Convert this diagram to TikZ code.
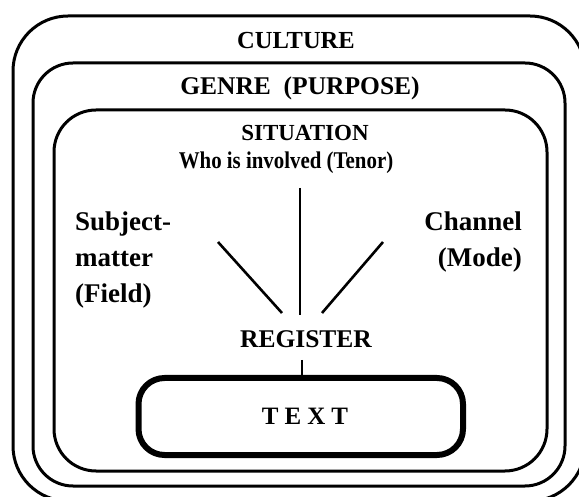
\documentclass[tikz,border=0pt]{standalone}
\usepackage{graphicx}
\usepackage{fontspec}
\setmainfont{Liberation Serif}
\begin{document}
\begin{tikzpicture}[x=1pt,y=-1pt,
  frame/.style={draw=black,line width=3pt,rounded corners=#1},
  textframe/.style={draw=black,line width=6pt,rounded corners=26pt},
  link/.style={draw=black,line width=2.6pt},
  lbl/.style={font=\fontsize{#1}{36}\selectfont\bfseries,inner sep=0pt},
  lbl/.default=25,
]
\useasboundingbox (0,0) rectangle (579,497);
% nested contexts
\draw[frame=55pt] (13,16) rectangle (585,501);
\draw[frame=40pt] (33,63) rectangle (565,486);
\draw[frame=42pt] (54,110) rectangle (547,471);
\draw[textframe] (138.5,378) rectangle (463,455);

% labels
\node[lbl=24.5] (culture) at (296,41) {CULTURE};
\node[lbl=25.5] (genre) at (300,88) {GENRE\ \ (PURPOSE)};
\node[lbl=23] (situation) at (305,133) {SITUATION};
\node[lbl=24] (tenor) at (286,163) {\scalebox{0.87}[1]{Who is involved (Tenor)}};
\node[lbl=27,align=left,anchor=north west] (field) at (75,212) {Subject-\\matter\\(Field)};
\node[lbl=27,align=right,anchor=north east] (mode) at (522,212) {Channel\\(Mode)};
\node[lbl=25.5] (register) at (306,339) {REGISTER};
\node[lbl=25] (text) at (305,416) {T\hspace{6pt}E\hspace{6pt}X\hspace{6pt}T};

% connectors into the register
\coordinate (tenorEnd) at (300,188);
\coordinate (fieldEnd) at (218,242);
\coordinate (modeEnd) at (383,242);
\coordinate (regTop) at (300,315);
\coordinate (regL) at (282,313);
\coordinate (regR) at (322,313);
\draw[link] (tenorEnd) -- (regTop);
\draw[link] (fieldEnd) -- (regL);
\draw[link] (modeEnd) -- (regR);
\coordinate (regBot) at (302,360);
\coordinate (textTop) at (302,376);
\draw[link] (regBot) -- (textTop);
\end{tikzpicture}
\end{document}
